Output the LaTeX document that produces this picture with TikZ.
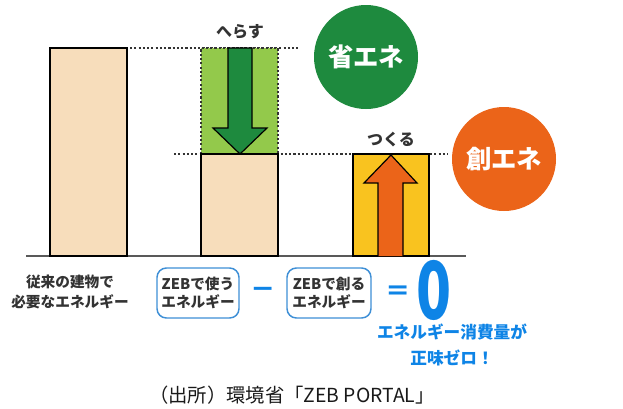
\documentclass[tikz,border=0pt]{standalone}
\usepackage{fontspec}
\setmainfont{Noto Sans CJK JP}
\usetikzlibrary{calc}
\definecolor{beige}{HTML}{F7DDBB}
\definecolor{lgreen}{HTML}{93C94B}
\definecolor{dgreen}{HTML}{1E8A3E}
\definecolor{yel}{HTML}{F9C31F}
\definecolor{ora}{HTML}{EB6419}
\definecolor{blu}{HTML}{0E84E6}
\definecolor{bbord}{HTML}{3E8FD6}
\definecolor{txt}{HTML}{333333}
\newlength{\pxu}
\setlength{\pxu}{0.75pt}
\tikzset{
  bar/.style={draw=black, line width=0.9pt},
  dotline/.style={draw=black!80, line width=0.9pt, dash pattern=on 1.6pt off 1.6pt},
  lbl/.style={text=txt, font=\fontsize{12}{13}\selectfont\bfseries, inner sep=0pt},
  bottomtxt/.style={text=txt, font=\fontsize{11}{15}\selectfont\bfseries, align=center, inner sep=0pt},
  ebox/.style={draw=bbord, line width=1.1pt, rounded corners=7pt, fill=white, minimum width=82\pxu, minimum height=50\pxu, align=center, text=txt, font=\fontsize{11}{14}\selectfont\bfseries, inner sep=0pt},
  circ/.style={circle, minimum size=104\pxu, inner sep=0pt, text=white, font=\fontsize{19}{20}\selectfont\bfseries},
  bluetxt/.style={text=blu, font=\fontsize{12.5}{14}\selectfont\bfseries, inner sep=0pt},
}
\begin{document}
\begin{tikzpicture}[x=0.75pt, y=-0.75pt]
\useasboundingbox (0,0) rectangle (623,408);
% dotted guide lines
\draw[dotline] (130,48) -- (298,48);
\draw[dotline] (174,154) -- (448,154);
% baseline
\draw[draw=black!65, line width=1.3pt] (26,256) -- (466,256);
% left bar
\draw[bar, fill=beige] (50,48) rectangle (127,256);
% middle bar
\fill[lgreen] (201,48) rectangle (278,154);
\draw[dotline] (201,154) -- (201,48) -- (278,48) -- (278,154);
\draw[bar, fill=beige] (201,154) rectangle (278,256);
% green arrow
\draw[bar, fill=dgreen, line join=miter] (228,48) -- (252,48) -- (252,128) -- (267,128) -- (240,154) -- (213,128) -- (228,128) -- cycle;
% right bar
\draw[bar, fill=yel] (353,154) rectangle (429,256);
\draw[bar, fill=ora, line join=miter] (378,256) -- (378,183) -- (364,183) -- (391,155) -- (417,183) -- (403,183) -- (403,256);
% labels
\node[lbl] (heras) at (240,32) {へらす};
\node[lbl] (tsukuru) at (391,140) {つくる};
% circles
\node[circ, fill=dgreen] (shoene) at (366,57) {省エネ};
\node[circ, fill=ora] (souene) at (504,159) {創エネ};
% bottom
\node[bottomtxt] (conv) at (70,292) {従来の建物で\\必要なエネルギー};
\node[ebox] (use) at (198,293) {ZEBで使う\\エネルギー};
\node[ebox, minimum width=84\pxu] (make) at (329,293) {ZEBで創る\\エネルギー};
\node[text=blu, font=\fontsize{19}{19}\selectfont\bfseries, inner sep=0pt] (minus) at (263.5,293) {－};
\node[text=blu, font=\fontsize{19}{19}\selectfont\bfseries, inner sep=0pt] (eq) at (398,293) {＝};
\node[text=blu, font=\fontsize{60}{60}\selectfont\bfseries, inner sep=0pt, xscale=0.72] (zero) at (434,290) {0};
\node[bluetxt] (net1) at (452,332) {エネルギー消費量が};
\node[bluetxt] (net2) at (452,358) {正味ゼロ！};
% caption
\node[text=black!90, font=\fontsize{14.5}{16}\selectfont, inner sep=0pt] (cap) at (292,395) {（出所）環境省「ZEB PORTAL」};
\end{tikzpicture}
\end{document}
